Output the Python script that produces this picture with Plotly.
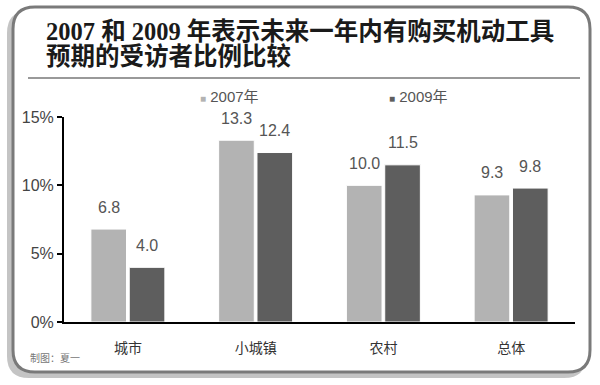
import plotly.graph_objects as go

# ---- data ----
categories = ["城市", "小城镇", "农村", "总体"]
series_names = ["2007年", "2009年"]
values_2007 = [6.8, 13.3, 10.0, 9.3]
values_2009 = [4.0, 12.4, 11.5, 9.8]
y_tick_values = [0, 5, 10, 15]
y_tick_labels = ["0%", "5%", "10%", "15%"]
title_line1 = "2007 和 2009 年表示未来一年内有购买机动工具"
title_line2 = "预期的受访者比例比较"
credit = "制图：夏一"

# ---- styling ----
W, H = 600, 385
colors = ["#b3b3b3", "#5e5e5e"]
label_color = "#555555"
cjk = "Noto Sans CJK SC"
num_font = "Liberation Sans Narrow, Liberation Sans, Arial, " + cjk


def px(x):
    return x / W


def py(y):
    return 1 - y / H


def rounded_rect(x0, y0, x1, y1, r):
    # pixel coords -> paper path with rounded corners
    rx, ry = r / W, r / H
    X0, X1 = px(x0), px(x1)
    Y0, Y1 = py(y0), py(y1)  # Y0 top (larger), Y1 bottom
    return (
        f"M{X0 + rx},{Y0} L{X1 - rx},{Y0} Q{X1},{Y0} {X1},{Y0 - ry} "
        f"L{X1},{Y1 + ry} Q{X1},{Y1} {X1 - rx},{Y1} "
        f"L{X0 + rx},{Y1} Q{X0},{Y1} {X0},{Y1 + ry} "
        f"L{X0},{Y0 - ry} Q{X0},{Y0} {X0 + rx},{Y0} Z"
    )


fig = go.Figure()
for name, vals, col in zip(series_names, [values_2007, values_2009], colors):
    fig.add_bar(
        x=categories, y=vals, name=name,
        marker=dict(color=col, line=dict(color="white", width=1)),
        showlegend=False,
    )

annotations = []
offsets = [-0.15, 0.15]
for vals, off in zip([values_2007, values_2009], offsets):
    for i, v in enumerate(vals):
        annotations.append(dict(
            x=i + off, y=v, xref="x", yref="y", text=f"{v:.1f}",
            showarrow=False, yshift=22, yanchor="middle",
            font=dict(family=num_font, size=16, color=label_color),
        ))

# legend as annotations
legend_x = [198, 387]
for name, col, lx in zip(series_names, colors, legend_x):
    annotations.append(dict(
        x=px(lx), y=py(97), xref="paper", yref="paper", xanchor="left",
        yanchor="middle", showarrow=False,
        text=f"<span style='color:{col};font-size:10px'>■</span> {name}",
        font=dict(family=num_font, size=15, color=label_color),
    ))

# title
for txt, yy in [(title_line1, 31), (title_line2, 56)]:
    annotations.append(dict(
        x=px(44), y=py(yy), xref="paper", yref="paper", xanchor="left",
        yanchor="middle", showarrow=False, text=f"<b>{txt}</b>",
        font=dict(family="Liberation Serif, DejaVu Serif, " + cjk, size=24.5,
                  color="#1a1a1a"),
    ))

annotations.append(dict(
    x=px(28), y=py(357), xref="paper", yref="paper", xanchor="left",
    yanchor="middle", showarrow=False, text=credit,
    font=dict(family=cjk, size=10, color="#777777"),
))

shapes = [
    # shadow
    dict(type="path", xref="paper", yref="paper",
         path=rounded_rect(7, 11, 586, 378, 22),
         fillcolor="#c4c4c4", line=dict(width=0), layer="below"),
    # card
    dict(type="path", xref="paper", yref="paper",
         path=rounded_rect(13, 7, 590, 372, 22),
         fillcolor="white", line=dict(color="#7a7a7a", width=3), layer="below"),
    # title rule
    dict(type="line", xref="paper", yref="paper",
         x0=px(28), x1=px(580), y0=py(78), y1=py(78),
         line=dict(color="#777777", width=1.5)),
]

fig.update_layout(
    width=W, height=H,
    margin=dict(l=0, r=0, t=0, b=0),
    paper_bgcolor="white", plot_bgcolor="rgba(0,0,0,0)",
    barmode="group", bargap=0.4, bargroupgap=0.07,
    annotations=annotations, shapes=shapes,
    xaxis=dict(
        domain=[px(64), px(575)], showline=True, linecolor="black",
        linewidth=2, ticks="", showgrid=False, zeroline=False,
        tickfont=dict(family=cjk, size=14, color="#333333"),
        ticklabelstandoff=12, automargin=False,
    ),
    yaxis=dict(
        domain=[py(322), py(117)], range=[0, 15], showline=True,
        linecolor="black", linewidth=2, ticks="outside", ticklen=5,
        tickwidth=2, tickcolor="black", tickmode="array",
        tickvals=y_tick_values, ticktext=y_tick_labels,
        showgrid=False, zeroline=False,
        tickfont=dict(family=num_font, size=16, color="#444444"),
        automargin=False,
    ),
)

fig.write_html("out.html")
